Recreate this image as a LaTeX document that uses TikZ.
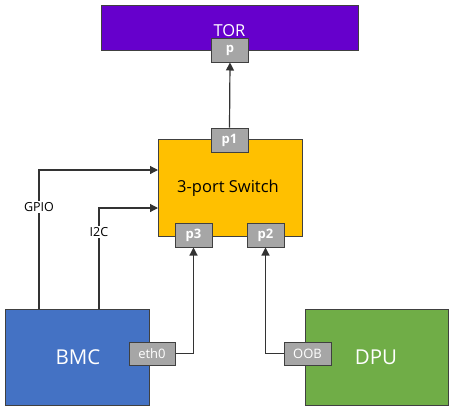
\documentclass[tikz,border=0pt]{standalone}
\usepackage{fontspec}
\setmainfont{Open Sans}
\usetikzlibrary{arrows.meta}
\definecolor{torc}{HTML}{6600CC}
\definecolor{swc}{HTML}{FFC000}
\definecolor{bmcc}{HTML}{4472C4}
\definecolor{dpuc}{HTML}{70AD47}
\definecolor{portc}{HTML}{A6A6A6}
\definecolor{edgec}{HTML}{404040}
\definecolor{linec}{HTML}{333333}
\tikzset{
  box/.style={draw=edgec, line width=1pt, inner sep=0pt},
  port/.style={draw=edgec, fill=portc, line width=1pt, inner sep=0pt, minimum width=37pt, minimum height=24pt, text=white, font=\fontsize{13}{13}\selectfont},
  bport/.style={port, font=\fontsize{13}{13}\selectfont\bfseries},
  arr/.style={draw=linec, line width=1.2pt, -{Triangle[length=8pt,width=8pt]}},
  lbl/.style={fill=white, inner sep=1.5pt, font=\fontsize{12.5}{13}\selectfont}
}
\begin{document}
\begin{tikzpicture}[x=1pt,y=-1pt]
\useasboundingbox (0,0) rectangle (454,410);
% main boxes
\node[box, fill=torc, minimum width=257pt, minimum height=45pt] (tor) at (229.5,27.5) {};
\node[text=white, font=\fontsize{16.5}{17}\selectfont] (tortxt) at (229.5,31) {TOR};
\node[box, fill=swc, minimum width=144pt, minimum height=97pt] (sw) at (230,187.5) {};
\node[font=\fontsize{16.5}{17}\selectfont] (swtxt) at (228,188) {3-port Switch};
\node[box, fill=bmcc, minimum width=144pt, minimum height=96pt] (bmc) at (77,357) {};
\node[text=white, font=\fontsize{20.5}{21}\selectfont] (bmctxt) at (78,357) {BMC};
\node[box, fill=dpuc, minimum width=143pt, minimum height=96pt] (dpu) at (376.5,357) {};
\node[text=white, font=\fontsize{20.5}{21}\selectfont] (dputxt) at (376,357) {DPU};
% ports
\node[bport] (p) at (230,50) {p};
\node[bport] (p1) at (229.5,140) {p1};
\node[bport] (p3) at (193.5,235) {p3};
\node[bport] (p2) at (265.5,235) {p2};
\node[port, minimum width=46pt, minimum height=23pt] (eth0) at (152,353.5) {eth0};
\node[port, minimum width=47pt, minimum height=23pt] (oob) at (307.5,353.5) {OOB};
% helper coordinates
\coordinate (gpiostart) at (39,309);
\coordinate (gpioend) at (158,170);
\coordinate (i2cstart) at (99,309);
\coordinate (i2cend) at (158,208);
% connectors
\draw[arr] (p1.north) -- (p.south);
\draw[arr] (eth0.east) -| (p3.south);
\draw[arr] (oob.west) -| (p2.south);
\draw[arr] (gpiostart) |- node[lbl, pos=0.367] (gpiolbl) {GPIO} (gpioend);
\draw[arr] (i2cstart) |- node[lbl, pos=0.381] (i2clbl) {I2C} (i2cend);
\end{tikzpicture}
\end{document}
